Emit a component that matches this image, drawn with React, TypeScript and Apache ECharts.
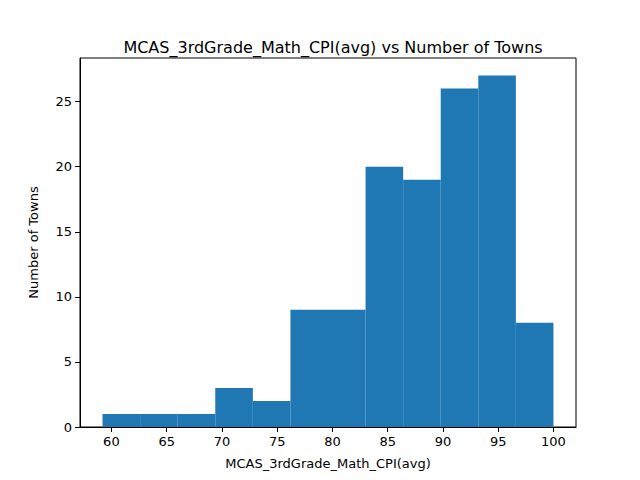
import { useEffect, useRef } from "react";
import * as echarts from "echarts";

const binEdges = [59.2, 62.6, 66.0, 69.4, 72.8, 76.2, 79.6, 83.0, 86.4, 89.8, 93.2, 96.6, 100];
const counts = [1, 1, 1, 3, 2, 9, 9, 20, 19, 26, 27, 8];
const xTicks = [60, 65, 70, 75, 80, 85, 90, 95, 100];
const yTicks = [0, 5, 10, 15, 20, 25];

const font = "DejaVu Sans, sans-serif";

export default function App() {
  const ref = useRef<HTMLDivElement>(null);

  useEffect(() => {
    if (!ref.current) return;
    const chart = echarts.init(ref.current, null, { renderer: "svg" });
    const data = counts.map((c, i) => [binEdges[i], binEdges[i + 1], c]);
    chart.setOption({
      animation: false,
      title: {
        text: "MCAS_3rdGrade_Math_CPI(avg) vs Number of Towns",
        left: 328,
        textAlign: "center",
        top: 34,
        textStyle: { fontFamily: font, fontSize: 16, fontWeight: "normal", color: "#000" },
      },
      grid: { left: 80, right: 64, top: 58, bottom: 53, show: true, borderColor: "#000", borderWidth: 1 },
      xAxis: {
        type: "value",
        min: 57.16,
        max: 102.04,
        name: "MCAS_3rdGrade_Math_CPI(avg)",
        nameLocation: "middle",
        nameGap: 30,
        nameTextStyle: { fontFamily: font, fontSize: 13, color: "#000" },
        splitLine: { show: false },
        axisLine: { show: true, onZero: false, lineStyle: { color: "#000" } },
        axisTick: { show: true, customValues: xTicks, length: 5, lineStyle: { color: "#000" } },
        axisLabel: { customValues: xTicks, fontFamily: font, fontSize: 13, color: "#000", margin: 8 },
      },
      yAxis: {
        type: "value",
        min: 0,
        max: 28.35,
        name: "Number of Towns",
        nameLocation: "middle",
        nameGap: 40,
        nameTextStyle: { fontFamily: font, fontSize: 13, color: "#000" },
        splitLine: { show: false },
        axisLine: { show: true, lineStyle: { color: "#000" } },
        axisTick: { show: true, customValues: yTicks, length: 5, lineStyle: { color: "#000" } },
        axisLabel: { customValues: yTicks, fontFamily: font, fontSize: 13, color: "#000", margin: 8 },
      },
      series: [
        {
          type: "custom",
          data,
          encode: { x: [0, 1], y: 2 },
          renderItem: (_params: any, api: any) => {
            const p0 = api.coord([api.value(0), api.value(2)]);
            const p1 = api.coord([api.value(1), 0]);
            return {
              type: "rect",
              shape: { x: p0[0], y: p0[1], width: p1[0] - p0[0], height: p1[1] - p0[1] },
              style: { fill: "#1f77b4" },
            };
          },
        },
      ],
    });
    return () => chart.dispose();
  }, []);

  return <div ref={ref} style={{ width: 640, height: 480, margin: -8 }} />;
}
